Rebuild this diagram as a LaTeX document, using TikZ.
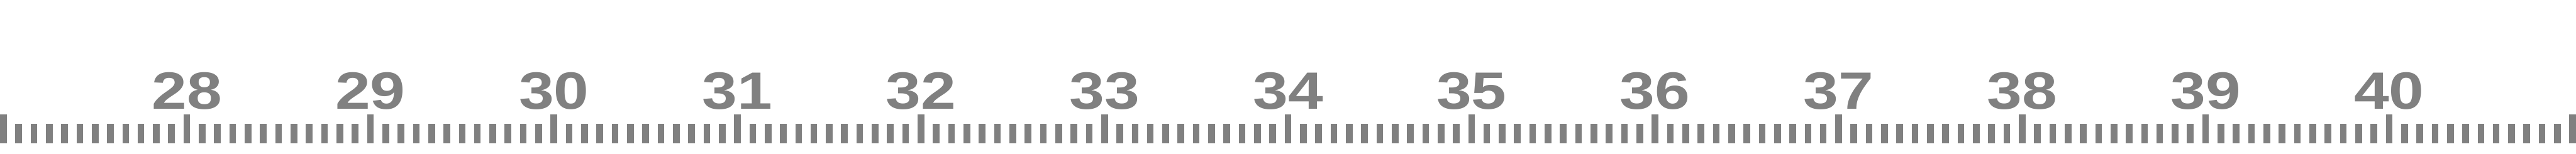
\documentclass[tikz,border=0pt]{standalone}
\usepackage{fontspec}
\newfontfamily\rulerfont[FakeStretch=1.2]{Liberation Sans Bold}
\usepackage{xcolor}
\definecolor{rulergray}{HTML}{808080}
\usepackage{tikz}

\begin{document}
\begin{tikzpicture}[
      bigtick/.style={fill=rulergray},
      smalltick/.style={fill=rulergray},
      num/.style={anchor=base, inner sep=0pt, text=rulergray, font=\rulerfont\fontsize{44.7}{50}\selectfont}
    ]
    \useasboundingbox (0,0) rectangle (77.06,4.60);
    \foreach \u in {0,...,14} {
      \path[bigtick] ({5.49*\u},0.305) rectangle ++(0.20,0.868);
    }
    \foreach \u in {0,...,13} {
      \foreach \s in {1,...,11} {
        \path[smalltick] ({5.49*\u+0.4575*\s},0.315) rectangle ++(0.20,0.575);
      }
    }
    \foreach \u in {1,...,13} {
      \pgfmathtruncatemacro{\val}{27+\u}
      \node[num] (n\val) at ({0.10+5.49*\u},1.333) {\val};
    }
  \end{tikzpicture}
\end{document}
